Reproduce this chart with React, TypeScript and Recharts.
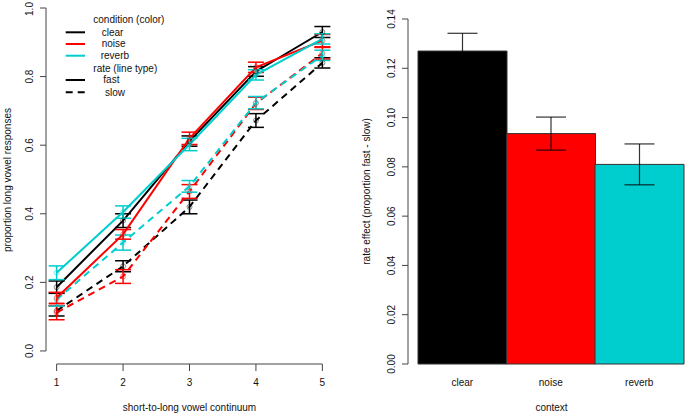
import React from 'react';
import {
  LineChart,
  Line,
  BarChart,
  Bar,
  Cell,
  XAxis,
  YAxis,
  ErrorBar,
  ReferenceLine,
} from 'recharts';

const FONT = '"Liberation Sans", Arial, Helvetica, sans-serif';
const INK = '#111';
const AXIS = '#444';
const CLEAR = '#000000';
const NOISE = '#FF0000';
const REVERB = '#00CDCD';

// left panel: proportion of long-vowel responses along the continuum
const steps = [1, 2, 3, 4, 5];
const clearFast = [0.186, 0.38, 0.612, 0.815, 0.93];
const clearFastSe = [0.018, 0.02, 0.015, 0.014, 0.016];
const noiseFast = [0.155, 0.34, 0.62, 0.827, 0.905];
const noiseFastSe = [0.016, 0.014, 0.018, 0.015, 0.018];
const reverbFast = [0.228, 0.405, 0.602, 0.805, 0.91];
const reverbFastSe = [0.02, 0.018, 0.018, 0.015, 0.015];
const clearSlow = [0.117, 0.247, 0.42, 0.672, 0.84];
const clearSlowSe = [0.015, 0.016, 0.02, 0.02, 0.015];
const noiseSlow = [0.112, 0.217, 0.465, 0.722, 0.868];
const noiseSlowSe = [0.021, 0.02, 0.02, 0.018, 0.017];
const reverbSlow = [0.15, 0.316, 0.48, 0.724, 0.862];
const reverbSlowSe = [0.019, 0.022, 0.017, 0.018, 0.015];
const proportionTicks = [0, 0.2, 0.4, 0.6, 0.8, 1.0];

// right panel: rate effect per context
const contexts = ['clear', 'noise', 'reverb'];
const rateEffect = [0.127, 0.0935, 0.081];
const rateEffectSe = [0.0072, 0.0067, 0.0083];
const effectTicks = [0, 0.02, 0.04, 0.06, 0.08, 0.1, 0.12, 0.14];

const lineData = steps.map((step, i) => ({
  step,
  clearFast: clearFast[i],
  clearFastSe: clearFastSe[i],
  noiseFast: noiseFast[i],
  noiseFastSe: noiseFastSe[i],
  reverbFast: reverbFast[i],
  reverbFastSe: reverbFastSe[i],
  clearSlow: clearSlow[i],
  clearSlowSe: clearSlowSe[i],
  noiseSlow: noiseSlow[i],
  noiseSlowSe: noiseSlowSe[i],
  reverbSlow: reverbSlow[i],
  reverbSlowSe: reverbSlowSe[i],
}));

const barData = contexts.map((context, i) => ({
  context,
  effect: rateEffect[i],
  se: rateEffectSe[i],
}));

const barColors = [CLEAR, NOISE, REVERB];

const series = [
  { key: 'clearSlow', color: CLEAR, dashed: true },
  { key: 'noiseSlow', color: NOISE, dashed: true },
  { key: 'reverbSlow', color: REVERB, dashed: true },
  { key: 'clearFast', color: CLEAR, dashed: false },
  { key: 'noiseFast', color: NOISE, dashed: false },
  { key: 'reverbFast', color: REVERB, dashed: false },
];

const DASH = '7 5';

const RotatedTick = (props: any) => {
  const { x, y, payload, digits } = props;
  return (
    <text
      x={0}
      y={0}
      transform={`translate(${x},${y}) rotate(-90)`}
      textAnchor="middle"
      fontSize={10}
      fill={INK}
      fontFamily={FONT}
    >
      {Number(payload.value).toFixed(digits)}
    </text>
  );
};

const tickStyle = { fontSize: 10, fill: INK, fontFamily: FONT };
const labelStyle = { fontSize: 10, fill: INK, fontFamily: FONT, textAnchor: 'middle' as const };

const PlotLegend = () => {
  const txt = { fontSize: 10, fill: INK, fontFamily: FONT };
  return (
    <svg
      width={200}
      height={110}
      style={{ position: 'absolute', left: 0, top: 0, pointerEvents: 'none' }}
    >
      <text x={93.3} y={23} {...txt}>condition (color)</text>
      <line x1={65.7} x2={85} y1={32.3} y2={32.3} stroke={CLEAR} strokeWidth={2} />
      <text x={101.7} y={35.8} {...txt}>clear</text>
      <line x1={65.7} x2={85} y1={44} y2={44} stroke={NOISE} strokeWidth={2} />
      <text x={101.7} y={47.4} {...txt}>noise</text>
      <line x1={65.7} x2={85} y1={55.7} y2={55.7} stroke={REVERB} strokeWidth={2} />
      <text x={100.7} y={59.3} {...txt}>reverb</text>
      <text x={93.3} y={71.5} {...txt}>rate (line type)</text>
      <line x1={65.7} x2={85} y1={80} y2={80} stroke={CLEAR} strokeWidth={2} />
      <text x={103.3} y={83.2} {...txt}>fast</text>
      <line x1={65.7} x2={85} y1={92.3} y2={92.3} stroke={CLEAR} strokeWidth={2} strokeDasharray={DASH} />
      <text x={105} y={95.8} {...txt}>slow</text>
    </svg>
  );
};

const App: React.FC = () => {
  return (
    <div
      style={{
        position: 'absolute',
        left: 0,
        top: 0,
        width: 685,
        height: 414,
        overflow: 'hidden',
        background: '#fff',
      }}
    >
      <div style={{ position: 'absolute', left: 0, top: 0, width: 340, height: 414 }}>
        <LineChart
          width={340}
          height={414}
          data={lineData}
          margin={{ top: 8, right: 7, bottom: 0, left: 0 }}
        >
          <XAxis
            type="number"
            dataKey="step"
            domain={[0.84, 5.16]}
            allowDataOverflow
            ticks={steps}
            height={50}
            tickSize={7}
            tickMargin={8}
            axisLine={false}
            tickLine={{ stroke: AXIS }}
            tick={tickStyle}
            label={{
              value: 'short-to-long vowel continuum',
              position: 'insideBottom',
              offset: 3,
              style: labelStyle,
            }}
          />
          <YAxis
            type="number"
            domain={[-0.038, 1.0]}
            allowDataOverflow
            ticks={proportionTicks}
            width={46}
            tickSize={6}
            tickMargin={7}
            axisLine={false}
            tickLine={{ stroke: AXIS }}
            tick={(p: any) => <RotatedTick {...p} digits={1} />}
            label={{
              value: 'proportion long vowel responses',
              angle: -90,
              position: 'insideLeft',
              offset: 7,
              dy: -6,
              style: labelStyle,
            }}
          />
          <ReferenceLine
            segment={[{ x: 0.84, y: 0 }, { x: 0.84, y: 1 }]}
            stroke={AXIS}
            ifOverflow="visible"
          />
          <ReferenceLine
            segment={[{ x: 1, y: -0.038 }, { x: 5, y: -0.038 }]}
            stroke={AXIS}
            ifOverflow="visible"
          />
          {series.map((s) => (
            <Line
              key={s.key}
              type="linear"
              dataKey={s.key}
              stroke={s.color}
              strokeWidth={2}
              strokeDasharray={s.dashed ? DASH : undefined}
              dot={{
                r: 2.5,
                fill: 'none',
                stroke: s.color,
                strokeOpacity: 0.45,
                strokeWidth: 1,
                strokeDasharray: 'none',
              }}
              activeDot={false}
              isAnimationActive={false}
            >
              <ErrorBar
                dataKey={`${s.key}Se`}
                direction="y"
                width={8}
                stroke={s.color}
                strokeWidth={1.5}
                isAnimationActive={false}
              />
            </Line>
          ))}
        </LineChart>
        <PlotLegend />
      </div>

      <div style={{ position: 'absolute', left: 340, top: 0, width: 355, height: 414 }}>
        <BarChart
          width={355}
          height={414}
          data={barData}
          margin={{ top: 19, right: 0, bottom: 0, left: 0 }}
          barCategoryGap={0}
          barGap={0}
        >
          <XAxis
            dataKey="context"
            padding={{ left: 10, right: 11.5 }}
            height={50}
            tickSize={7}
            tickMargin={8}
            axisLine={false}
            tickLine={false}
            tick={tickStyle}
            label={{
              value: 'context',
              position: 'insideBottom',
              offset: 3,
              style: labelStyle,
            }}
          />
          <YAxis
            type="number"
            domain={[0, 0.14]}
            ticks={effectTicks}
            width={68}
            tickSize={6}
            tickMargin={7}
            axisLine={{ stroke: AXIS }}
            tickLine={{ stroke: AXIS }}
            tick={(p: any) => <RotatedTick {...p} digits={2} />}
            label={{
              value: 'rate effect (proportion fast - slow)',
              angle: -90,
              position: 'insideLeft',
              offset: 26,
              style: labelStyle,
            }}
          />
          <Bar dataKey="effect" stroke="#333" strokeWidth={1} isAnimationActive={false}>
            {barData.map((d, i) => (
              <Cell key={d.context} fill={barColors[i]} />
            ))}
            <ErrorBar
              dataKey="se"
              direction="y"
              width={15}
              stroke="#000"
              strokeWidth={1.2}
              strokeOpacity={0.8}
              isAnimationActive={false}
            />
          </Bar>
        </BarChart>
      </div>
    </div>
  );
};

export default App;
